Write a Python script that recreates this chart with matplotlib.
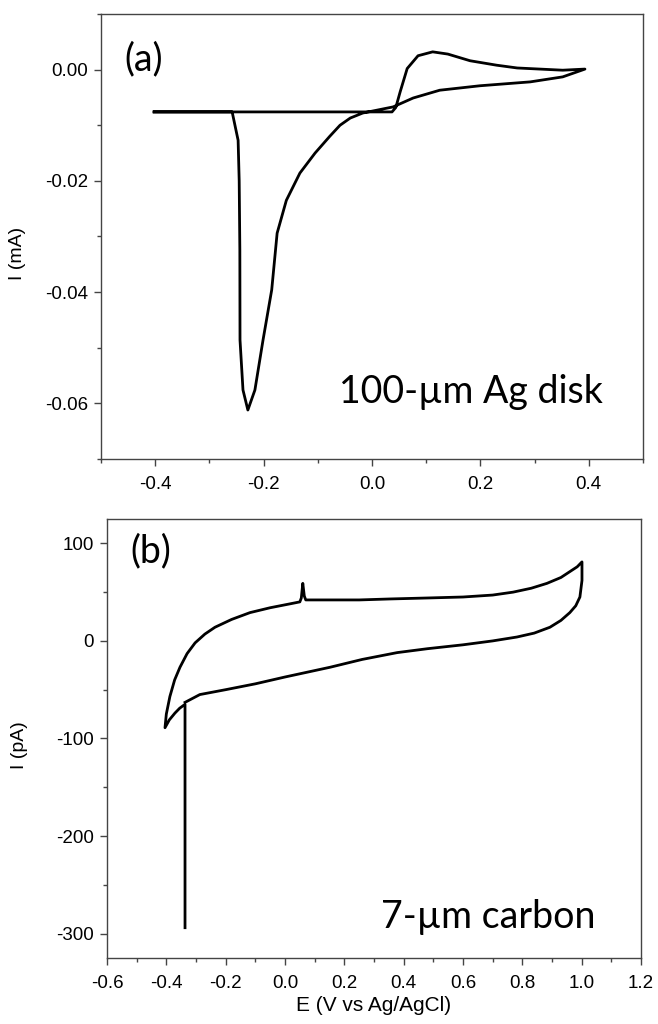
import numpy as np
import matplotlib as mpl
mpl.use('Agg')
import matplotlib.pyplot as plt
from matplotlib.ticker import MultipleLocator, FormatStrFormatter

plt.rcParams['font.family'] = ['Liberation Sans', 'DejaVu Sans']
plt.rcParams['axes.unicode_minus'] = False

# (a) 100-um Ag disk, potential in V, current in mA
ag_e = [-0.402, -0.30, -0.20, -0.10, 0.00, 0.037, 0.044, 0.052, 0.065, 0.085, 0.112,
        0.140, 0.181, 0.230, 0.268, 0.352, 0.393,
        0.352, 0.292, 0.199, 0.125, 0.076, 0.039, -0.017, -0.040, -0.059, -0.078,
        -0.105, -0.133, -0.158, -0.175, -0.185, -0.201, -0.216, -0.229,
        -0.238, -0.2435, -0.2438, -0.245, -0.247, -0.258, -0.402]
ag_i = [-0.0076, -0.0076, -0.0076, -0.0076, -0.0076, -0.0076, -0.0068, -0.0040, 0.0002, 0.0025, 0.0032,
        0.0028, 0.0016, 0.0008, 0.0003, -0.0001, 0.0001,
        -0.0013, -0.0022, -0.0029, -0.0037, -0.0051, -0.0067, -0.0078, -0.0087, -0.0100, -0.0120,
        -0.0150, -0.0186, -0.0235, -0.0294, -0.0396, -0.0486, -0.0576, -0.0612,
        -0.0576, -0.0486, -0.0324, -0.0200, -0.0127, -0.0076, -0.0076]

# (b) 7-um carbon, potential in V, current in pA
c_e = [-0.337, -0.337, -0.355, -0.371, -0.390, -0.4045,
       -0.400, -0.388, -0.372, -0.354, -0.330, -0.303, -0.270, -0.236, -0.180, -0.118,
       -0.050, 0.017, 0.050, 0.055, 0.060, 0.065, 0.070, 0.080, 0.150, 0.250, 0.354,
       0.480, 0.600, 0.700, 0.769, 0.830, 0.883, 0.930, 0.960, 0.985, 1.001,
       1.001, 0.994, 0.980, 0.960, 0.930, 0.893, 0.840, 0.782, 0.700, 0.600, 0.480,
       0.378, 0.260, 0.152, 0.000, -0.100, -0.200, -0.287, -0.337]
c_i = [-294, -65, -69, -74, -81, -89,
       -75, -57, -40, -27, -13, -2, 7, 14, 22, 29,
       34, 38, 40, 44, 59, 46, 42, 42, 42, 42, 43,
       44, 45, 47, 50, 54, 59, 65, 71, 76, 81,
       62, 45, 36, 29, 21, 14, 8, 4, 0, -4, -8,
       -12, -19, -27, -37, -44, -50, -55, -63]

fig = plt.figure(figsize=(6.58, 10.24), dpi=100)
ax1 = fig.add_axes([0.1535, 0.5518, 0.8236, 0.4345])
ax2 = fig.add_axes([0.1626, 0.0645, 0.8116, 0.4287])

lw = 2.0
ax1.plot(ag_e, ag_i, color='black', lw=lw, solid_joinstyle='round')
ax2.plot(c_e, c_i, color='black', lw=lw, solid_joinstyle='round')

ax1.set_xlim(-0.5, 0.5)
ax1.set_ylim(-0.07, 0.01)
ax1.xaxis.set_major_locator(MultipleLocator(0.2))
ax1.xaxis.set_minor_locator(MultipleLocator(0.1))
ax1.yaxis.set_major_locator(MultipleLocator(0.02))
ax1.yaxis.set_minor_locator(MultipleLocator(0.01))
ax1.xaxis.set_major_formatter(FormatStrFormatter('%.1f'))
ax1.yaxis.set_major_formatter(FormatStrFormatter('%.2f'))
ax1.set_ylabel('I (mA)', fontsize=14)
ax1.yaxis.set_label_coords(-0.138, 0.463)

ax2.set_xlim(-0.6, 1.2)
ax2.set_ylim(-325, 125)
ax2.xaxis.set_major_locator(MultipleLocator(0.2))
ax2.xaxis.set_minor_locator(MultipleLocator(0.1))
ax2.yaxis.set_major_locator(MultipleLocator(100))
ax2.yaxis.set_minor_locator(MultipleLocator(50))
ax2.xaxis.set_major_formatter(FormatStrFormatter('%.1f'))
ax2.set_ylabel('I (pA)', fontsize=14)
ax2.yaxis.set_label_coords(-0.148, 0.485)
ax2.set_xlabel('E (V vs Ag/AgCl)', fontsize=15, labelpad=3)

for ax in (ax1, ax2):
    for s in ax.spines.values():
        s.set_color('#444444')
        s.set_linewidth(1.0)
    ax.tick_params(which='major', direction='out', length=5, width=1.0,
                   color='#444444', labelsize=13.5)
    ax.tick_params(axis='x', which='major', pad=7)
    ax.tick_params(axis='y', which='major', pad=4.5)
    ax.tick_params(which='minor', direction='out', length=3, width=1.0, color='#444444')
    ax.tick_params(top=False, right=False, which='both')

calib = ['Lato', 'DejaVu Sans']
ax1.text(0.044, 0.939, '(a)', transform=ax1.transAxes, fontsize=27,
         family=calib, va='top', ha='left')
ax1.text(0.926, 0.125, '100-\u00b5m Ag disk', transform=ax1.transAxes, fontsize=27,
         family=calib, va='baseline', ha='right')
ax2.text(0.043, 0.968, '(b)', transform=ax2.transAxes, fontsize=27,
         family=calib, va='top', ha='left')
ax2.text(0.914, 0.068, '7-\u00b5m carbon', transform=ax2.transAxes, fontsize=27,
         family=calib, va='baseline', ha='right')

fig.savefig('out.png', dpi=100)
